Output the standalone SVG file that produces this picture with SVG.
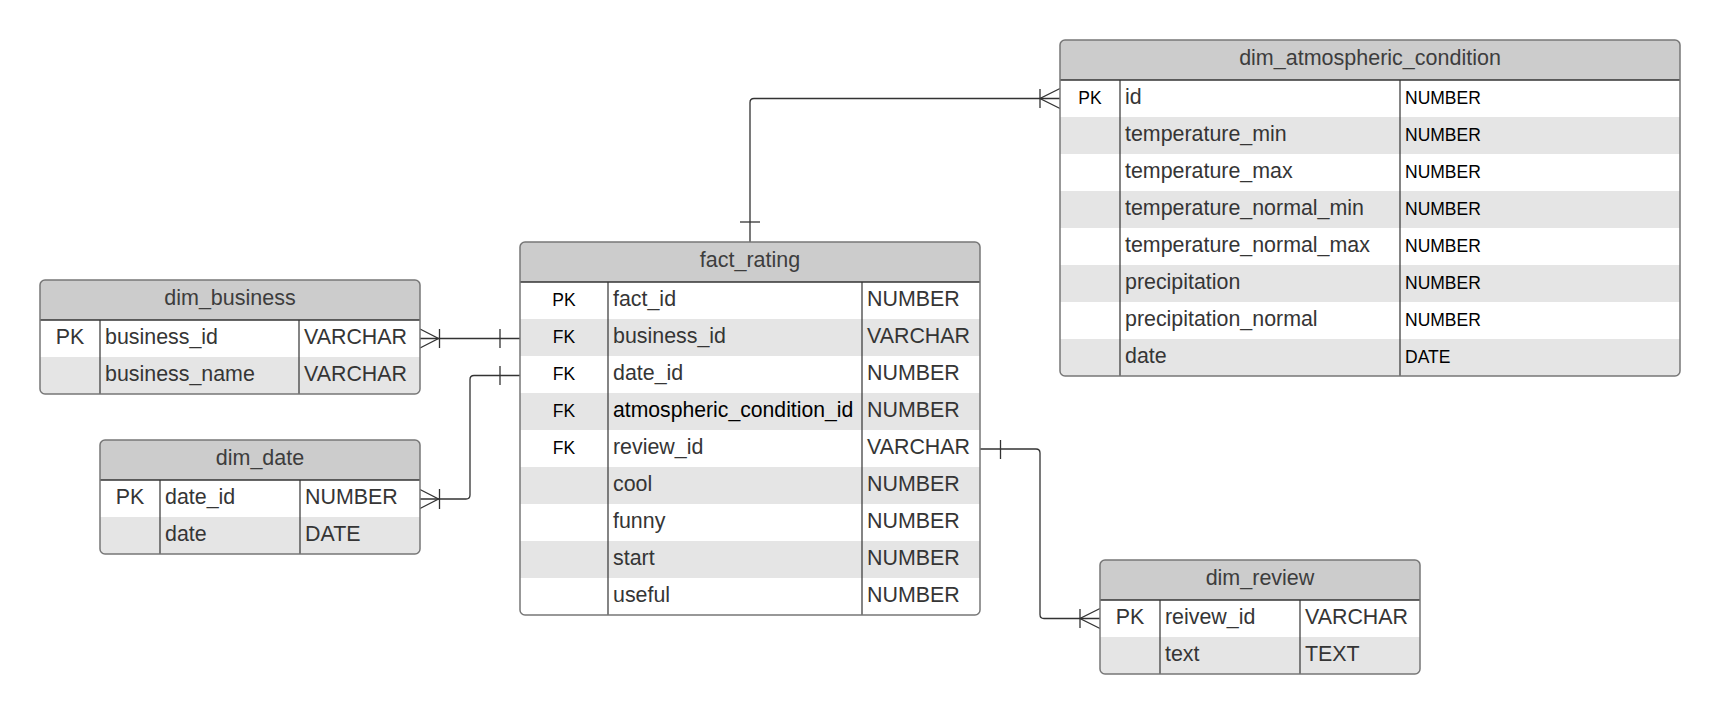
<svg xmlns="http://www.w3.org/2000/svg" width="1720" height="714" viewBox="0 0 1720 714">
<style>
.bg{fill:#ffffff}
.hdr{fill:#cccccc}
.stripe{fill:#e5e5e5}
.frame{fill:none;stroke:#777777;stroke-width:1.5}
.sep{stroke:#333333;stroke-width:1.3}
.col{stroke:#333333;stroke-width:1.2}
.title{font-family:"Liberation Sans",Arial,sans-serif;font-size:21.5px;fill:#3d3d3d;text-anchor:middle}
.big{font-family:"Liberation Sans",Arial,sans-serif;font-size:21.4px;fill:#353535}
.bigc{font-family:"Liberation Sans",Arial,sans-serif;font-size:21.4px;fill:#353535;text-anchor:middle}
.blk{font-family:"Liberation Sans",Arial,sans-serif;font-size:21.2px;fill:#000000}
.sm{font-family:"Liberation Sans",Arial,sans-serif;font-size:17.5px;fill:#000000}
.smc{font-family:"Liberation Sans",Arial,sans-serif;font-size:17.5px;fill:#000000;text-anchor:middle}
.conn{fill:none;stroke:#333333;stroke-width:1.3}
</style>
<defs>
<clipPath id="cp-business"><rect x="40" y="280" width="380" height="114" rx="5"/></clipPath>
<clipPath id="cp-date"><rect x="100" y="440" width="320" height="114" rx="5"/></clipPath>
<clipPath id="cp-fact"><rect x="520" y="242" width="460" height="373" rx="5"/></clipPath>
<clipPath id="cp-atmo"><rect x="1060" y="40" width="620" height="336" rx="5"/></clipPath>
<clipPath id="cp-review"><rect x="1100" y="560" width="320" height="114" rx="5"/></clipPath>
</defs>

<g id="connectors">
  <!-- dim_business to fact_rating -->
  <path class="conn" d="M420,338.5 H520"/>
  <path class="conn" d="M420,329 L438.5,338.5 L420,348"/>
  <path class="conn" d="M439.5,329 V348"/>
  <path class="conn" d="M500,329 V348"/>
  <!-- dim_date to fact_rating -->
  <path class="conn" d="M420,499 H466 Q470,499 470,495 V379.5 Q470,375.5 474,375.5 H520"/>
  <path class="conn" d="M420,489.5 L438.5,499 L420,508.5"/>
  <path class="conn" d="M439.5,489 V509"/>
  <path class="conn" d="M500,366 V385"/>
  <!-- fact_rating to dim_atmospheric_condition -->
  <path class="conn" d="M750,242 V102.5 Q750,98.5 754,98.5 H1060"/>
  <path class="conn" d="M740,222 H760"/>
  <path class="conn" d="M1060,88.5 L1040,98.5 L1060,108.5"/>
  <path class="conn" d="M1040,89 V108"/>
  <!-- fact_rating to dim_review -->
  <path class="conn" d="M980,449 H1036 Q1040,449 1040,453 V614.5 Q1040,618.5 1044,618.5 H1100"/>
  <path class="conn" d="M1000.5,440 V459"/>
  <path class="conn" d="M1100,608.5 L1080,618.5 L1100,628.5"/>
  <path class="conn" d="M1080,609 V628"/>
</g>

<g id="dim_business">
  <g clip-path="url(#cp-business)">
    <rect class="bg" x="40" y="280" width="380" height="114"/>
    <rect class="hdr" x="40" y="280" width="380" height="40"/>
    <rect class="stripe" x="40" y="357" width="380" height="37"/>
  </g>
  <line class="sep" x1="40" y1="320" x2="420" y2="320"/>
  <line class="col" x1="100" y1="320" x2="100" y2="394"/>
  <line class="col" x1="299" y1="320" x2="299" y2="394"/>
  <rect class="frame" x="40" y="280" width="380" height="114" rx="5"/>
  <text class="title" x="230" y="305">dim_business</text>
  <text class="bigc" x="70" y="343.5">PK</text>
  <text class="big" x="105" y="343.5">business_id</text>
  <text class="big" x="304" y="343.5">VARCHAR</text>
  <text class="big" x="105" y="380.5">business_name</text>
  <text class="big" x="304" y="380.5">VARCHAR</text>
</g>

<g id="dim_date">
  <g clip-path="url(#cp-date)">
    <rect class="bg" x="100" y="440" width="320" height="114"/>
    <rect class="hdr" x="100" y="440" width="320" height="40"/>
    <rect class="stripe" x="100" y="517" width="320" height="37"/>
  </g>
  <line class="sep" x1="100" y1="480" x2="420" y2="480"/>
  <line class="col" x1="160" y1="480" x2="160" y2="554"/>
  <line class="col" x1="300" y1="480" x2="300" y2="554"/>
  <rect class="frame" x="100" y="440" width="320" height="114" rx="5"/>
  <text class="title" x="260" y="465">dim_date</text>
  <text class="bigc" x="130" y="503.5">PK</text>
  <text class="big" x="165" y="503.5">date_id</text>
  <text class="big" x="305" y="503.5">NUMBER</text>
  <text class="big" x="165" y="540.5">date</text>
  <text class="big" x="305" y="540.5">DATE</text>
</g>

<g id="fact_rating">
  <g clip-path="url(#cp-fact)">
    <rect class="bg" x="520" y="242" width="460" height="373"/>
    <rect class="hdr" x="520" y="242" width="460" height="40"/>
    <rect class="stripe" x="520" y="319" width="460" height="37"/>
    <rect class="stripe" x="520" y="393" width="460" height="37"/>
    <rect class="stripe" x="520" y="467" width="460" height="37"/>
    <rect class="stripe" x="520" y="541" width="460" height="37"/>
  </g>
  <line class="sep" x1="520" y1="282" x2="980" y2="282"/>
  <line class="col" x1="608" y1="282" x2="608" y2="615"/>
  <line class="col" x1="862" y1="282" x2="862" y2="615"/>
  <rect class="frame" x="520" y="242" width="460" height="373" rx="5"/>
  <text class="title" x="750" y="267">fact_rating</text>
  <text class="smc" x="564" y="305.5">PK</text>
  <text class="big" x="613" y="305.5">fact_id</text>
  <text class="big" x="867" y="305.5">NUMBER</text>
  <text class="smc" x="564" y="342.5">FK</text>
  <text class="big" x="613" y="342.5">business_id</text>
  <text class="big" x="867" y="342.5">VARCHAR</text>
  <text class="smc" x="564" y="379.5">FK</text>
  <text class="big" x="613" y="379.5">date_id</text>
  <text class="big" x="867" y="379.5">NUMBER</text>
  <text class="smc" x="564" y="416.5">FK</text>
  <text class="blk" x="613" y="416.5">atmospheric_condition_id</text>
  <text class="big" x="867" y="416.5">NUMBER</text>
  <text class="smc" x="564" y="453.5">FK</text>
  <text class="big" x="613" y="453.5">review_id</text>
  <text class="big" x="867" y="453.5">VARCHAR</text>
  <text class="big" x="613" y="490.5">cool</text>
  <text class="big" x="867" y="490.5">NUMBER</text>
  <text class="big" x="613" y="527.5">funny</text>
  <text class="big" x="867" y="527.5">NUMBER</text>
  <text class="big" x="613" y="564.5">start</text>
  <text class="big" x="867" y="564.5">NUMBER</text>
  <text class="big" x="613" y="601.5">useful</text>
  <text class="big" x="867" y="601.5">NUMBER</text>
</g>

<g id="dim_atmospheric_condition">
  <g clip-path="url(#cp-atmo)">
    <rect class="bg" x="1060" y="40" width="620" height="336"/>
    <rect class="hdr" x="1060" y="40" width="620" height="40"/>
    <rect class="stripe" x="1060" y="117" width="620" height="37"/>
    <rect class="stripe" x="1060" y="191" width="620" height="37"/>
    <rect class="stripe" x="1060" y="265" width="620" height="37"/>
    <rect class="stripe" x="1060" y="339" width="620" height="37"/>
  </g>
  <line class="sep" x1="1060" y1="80" x2="1680" y2="80"/>
  <line class="col" x1="1120" y1="80" x2="1120" y2="376"/>
  <line class="col" x1="1400" y1="80" x2="1400" y2="376"/>
  <rect class="frame" x="1060" y="40" width="620" height="336" rx="5"/>
  <text class="title" x="1370" y="65">dim_atmospheric_condition</text>
  <text class="smc" x="1090" y="103.5">PK</text>
  <text class="big" x="1125" y="103.5">id</text>
  <text class="sm" x="1405" y="103.5">NUMBER</text>
  <text class="big" x="1125" y="140.5">temperature_min</text>
  <text class="sm" x="1405" y="140.5">NUMBER</text>
  <text class="big" x="1125" y="177.5">temperature_max</text>
  <text class="sm" x="1405" y="177.5">NUMBER</text>
  <text class="big" x="1125" y="214.5">temperature_normal_min</text>
  <text class="sm" x="1405" y="214.5">NUMBER</text>
  <text class="big" x="1125" y="251.5">temperature_normal_max</text>
  <text class="sm" x="1405" y="251.5">NUMBER</text>
  <text class="big" x="1125" y="288.5">precipitation</text>
  <text class="sm" x="1405" y="288.5">NUMBER</text>
  <text class="big" x="1125" y="325.5">precipitation_normal</text>
  <text class="sm" x="1405" y="325.5">NUMBER</text>
  <text class="big" x="1125" y="362.5">date</text>
  <text class="sm" x="1405" y="362.5">DATE</text>
</g>

<g id="dim_review">
  <g clip-path="url(#cp-review)">
    <rect class="bg" x="1100" y="560" width="320" height="114"/>
    <rect class="hdr" x="1100" y="560" width="320" height="40"/>
    <rect class="stripe" x="1100" y="637" width="320" height="37"/>
  </g>
  <line class="sep" x1="1100" y1="600" x2="1420" y2="600"/>
  <line class="col" x1="1160" y1="600" x2="1160" y2="674"/>
  <line class="col" x1="1300" y1="600" x2="1300" y2="674"/>
  <rect class="frame" x="1100" y="560" width="320" height="114" rx="5"/>
  <text class="title" x="1260" y="585">dim_review</text>
  <text class="bigc" x="1130" y="623.5">PK</text>
  <text class="big" x="1165" y="623.5">reivew_id</text>
  <text class="big" x="1305" y="623.5">VARCHAR</text>
  <text class="big" x="1165" y="660.5">text</text>
  <text class="big" x="1305" y="660.5">TEXT</text>
</g>
</svg>
